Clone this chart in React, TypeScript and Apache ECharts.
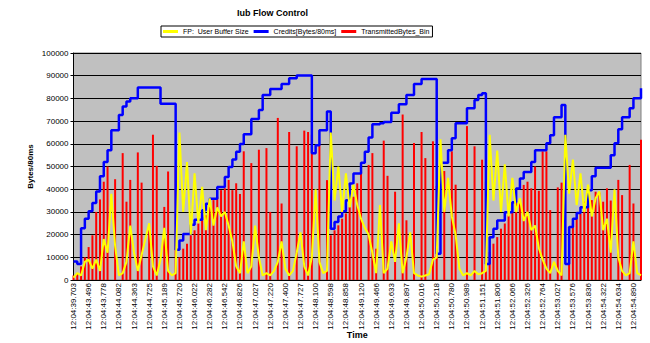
import React, { useEffect, useRef } from "react";
import * as echarts from "echarts";

const timeLabels = [
  "12:04:39.703", "12:04:43.496", "12:04:43.778", "12:04:44.082", "12:04:44.363",
  "12:04:44.725", "12:04:45.189", "12:04:45.720", "12:04:46.022", "12:04:46.282",
  "12:04:46.542", "12:04:46.826", "12:04:47.027", "12:04:47.220", "12:04:47.400",
  "12:04:47.727", "12:04:48.100", "12:04:48.598", "12:04:48.858", "12:04:49.120",
  "12:04:49.466", "12:04:49.633", "12:04:49.897", "12:04:50.016", "12:04:50.218",
  "12:04:50.780", "12:04:50.989", "12:04:51.151", "12:04:51.806", "12:04:52.066",
  "12:04:52.326", "12:04:52.764", "12:04:53.027", "12:04:53.576", "12:04:53.836",
  "12:04:54.322", "12:04:54.634", "12:04:54.890",
];

const credits = [
  8200, 7000, 22800, 27000, 30300, 33900, 39000, 45700, 52000, 57200,
  66000, 66000, 72700, 76400, 78600, 80100, 80100, 84800, 84800, 84800,
  84800, 84800, 84800, 77600, 77600, 77600, 77600, 13300, 17400, 20300,
  20300, 24300, 26500, 26500, 30700, 33600, 35800, 35800, 41000, 41000,
  45400, 49800, 53100, 56500, 59900, 64200, 64200, 70900, 70900, 74900,
  81500, 81500, 84100, 84100, 84100, 86300, 86300, 88900, 88900, 90100,
  90100, 90100, 90100, 55800, 59400, 66000, 66000, 74200, 22600, 25500,
  28000, 30300, 35100, 42500, 46900, 46900, 51600, 56500, 62800, 68600,
  68600, 69000, 69600, 69600, 73700, 73700, 77400, 77400, 81500, 81500,
  86300, 86300, 88500, 88500, 88500, 88500, 11600, 51600, 51600, 57200,
  62400, 69000, 69000, 69000, 75700, 75700, 79300, 81500, 82300, 7100,
  18800, 22600, 26200, 26200, 29900, 29900, 34300, 40300, 44700, 47600,
  47600, 52000, 57200, 57200, 57200, 60200, 63800, 71700, 71700, 77100,
  7100, 23300, 27000, 29500, 32100, 32100, 39500, 45700, 49500, 49500,
  49500, 49500, 55000, 60200, 66400, 71700, 71700, 75700, 80100, 80100,
  84500,
];

const transmitted = [
  2000, 3000, 6000, 10000, 14500, 19700, 30000, 35500, 43300, 50000,
  0, 44400, 0, 55900, 34500, 44100, 0, 56200, 42900, 0,
  22000, 64000, 50300, 0, 32200, 47800, 0, 50300, 10000, 13800,
  16000, 19700, 21900, 24900, 27800, 28500, 33700, 35200, 36700, 39600,
  40400, 44100, 39600, 42600, 37900, 56700, 0, 51500, 0, 57400,
  0, 58100, 30000, 0, 71400, 33700, 0, 65200, 0, 58900,
  0, 65800, 65200, 64000, 0, 59600, 0, 44000, 19700, 21900,
  24100, 27000, 29300, 32200, 36700, 42600, 47800, 0, 50700, 55900,
  13800, 0, 61400, 45900, 0, 38900, 0, 72900, 26300, 0,
  60400, 0, 65200, 53700, 0, 61100, 41400, 0, 48000, 0,
  56700, 42000, 0, 0, 67800, 0, 58900, 0, 53000, 43300,
  12300, 16000, 18900, 22600, 24900, 28500, 30000, 34500, 35200, 41900,
  43300, 40400, 50000, 39300, 56700, 56700, 30800, 0, 40800, 42900,
  0, 22600, 25100, 27100, 29300, 34500, 36700, 35200, 38900, 38500,
  34500, 40400, 35000, 0, 44100, 37400, 0, 50700, 33700, 0,
  61800,
];

const bufferSize = [
  1000, 3000, 2000, 8000, 9000, 5000, 9000, 4000, 18000, 12000,
  38000, 15000, 2000, 3000, 8000, 24000, 12000, 4000, 11000, 18000,
  25000, 6000, 2000, 9000, 23000, 4000, 2000, 3000, 65000, 30000,
  52000, 20000, 47000, 25000, 41000, 22000, 36000, 24000, 32000, 28000,
  30000, 24000, 17000, 6000, 3000, 17000, 3000, 6000, 24000, 10000,
  2000, 3000, 2000, 4000, 8000, 17000, 5000, 2000, 4000, 12000,
  21000, 6000, 2000, 10000, 40000, 8000, 3000, 4000, 65000, 35000,
  50000, 30000, 47000, 32000, 42000, 33000, 27000, 23000, 20000, 12000,
  3000, 33000, 3000, 5000, 17000, 8000, 25000, 3000, 10000, 21000,
  3000, 2000, 1500, 2000, 2500, 9000, 10000, 62000, 30000, 45000,
  28000, 20000, 5000, 2000, 3000, 2000, 4000, 2500, 3000, 4000,
  64000, 35000, 57000, 30000, 51000, 28000, 45000, 30000, 36000, 26000,
  30000, 22000, 24000, 14000, 9000, 5000, 3000, 8000, 4000, 2000,
  64000, 38000, 53000, 33000, 47000, 30000, 42000, 28000, 36000, 39000,
  22000, 27000, 12000, 40000, 10000, 4000, 2000, 3000, 17000, 3000,
  2000,
];

const seriesNames = ["FP:  User Buffer Size", "Credits[Bytes/80ms]", "TransmittedBytes_Bin"];

export default function App() {
  const ref = useRef<HTMLDivElement>(null);
  useEffect(() => {
    const chart = echarts.init(ref.current!, null, { renderer: "svg" });
    const font = "Liberation Sans";
    chart.setOption({
      animation: false,
      backgroundColor: "#ffffff",
      title: {
        text: "Iub Flow Control",
        left: 232,
        top: 3,
        textStyle: { fontFamily: font, fontSize: 9, fontWeight: "bold", color: "#000" },
      },
      legend: {
        left: 161,
        top: 26,
        itemWidth: 15,
        itemHeight: 3,
        itemGap: 5,
        padding: [2, 3, 2, 2],
        backgroundColor: "#ffffff",
        borderColor: "#000000",
        borderWidth: 1,
        textStyle: { fontFamily: font, fontSize: 7, color: "#000" },
        data: seriesNames.map((n) => ({ name: n, icon: "rect" })),
      },
      grid: {
        left: 73.5,
        right: 9,
        top: 53,
        bottom: 63,
        show: true,
        containLabel: false,
        outerBoundsMode: "none",
        backgroundColor: "#C0C0C0",
        borderColor: "#808080",
        borderWidth: 1,
      },
      xAxis: {
        type: "value",
        min: 0,
        max: timeLabels.length * 4 - 2,
        interval: 4,
        name: "Time",
        nameLocation: "middle",
        nameGap: 50,
        nameMoveOverlap: false,
        nameTextStyle: { fontFamily: font, fontSize: 9, fontWeight: "bold", color: "#000" },
        axisLine: { show: true, onZero: false, lineStyle: { color: "#000", width: 1 } },
        axisTick: { show: false },
        splitLine: { show: false },
        axisLabel: {
          rotate: 90,
          fontFamily: font,
          fontSize: 8,
          color: "#000",
          margin: 3,
          showMaxLabel: false,
          formatter: (v: number) => (v % 4 === 0 && timeLabels[v / 4] ? timeLabels[v / 4] : ""),
        },
      },
      yAxis: {
        type: "value",
        min: 0,
        max: 100000,
        interval: 10000,
        name: "Bytes/80ms",
        nameLocation: "middle",
        nameGap: 39,
        nameMoveOverlap: false,
        nameTextStyle: { fontFamily: font, fontSize: 8, fontWeight: "bold", color: "#000" },
        axisLine: { show: true, lineStyle: { color: "#000", width: 1 } },
        axisTick: { show: true, length: 3, lineStyle: { color: "#000" } },
        splitLine: { show: true, lineStyle: { color: "#000", width: 1 } },
        axisLabel: {
          fontFamily: font,
          fontSize: 8,
          color: "#000",
          margin: 5,
          formatter: (v: number) => String(v),
        },
      },
      series: [
        {
          name: seriesNames[0],
          type: "line",
          data: bufferSize.map((v, i) => [i, v]),
          showSymbol: false,
          lineStyle: { color: "#FFFF00", width: 2 },
          itemStyle: { color: "#FFFF00" },
          z: 4,
        },
        {
          name: seriesNames[1],
          type: "line",
          step: "end",
          data: credits.map((v, i) => [i, v]),
          showSymbol: false,
          lineStyle: { color: "#0000FF", width: 2.5 },
          itemStyle: { color: "#0000FF" },
          z: 3,
        },
        {
          name: seriesNames[2],
          type: "bar",
          barWidth: 2,
          data: transmitted.map((v, i) => [i, v]),
          itemStyle: { color: "#FF0000" },
          z: 2,
        },
      ],
    });
    return () => chart.dispose();
  }, []);
  return (
    <div
      ref={ref}
      style={{ position: "fixed", left: 0, top: 0, width: 650, height: 343, background: "#fff" }}
    />
  );
}
